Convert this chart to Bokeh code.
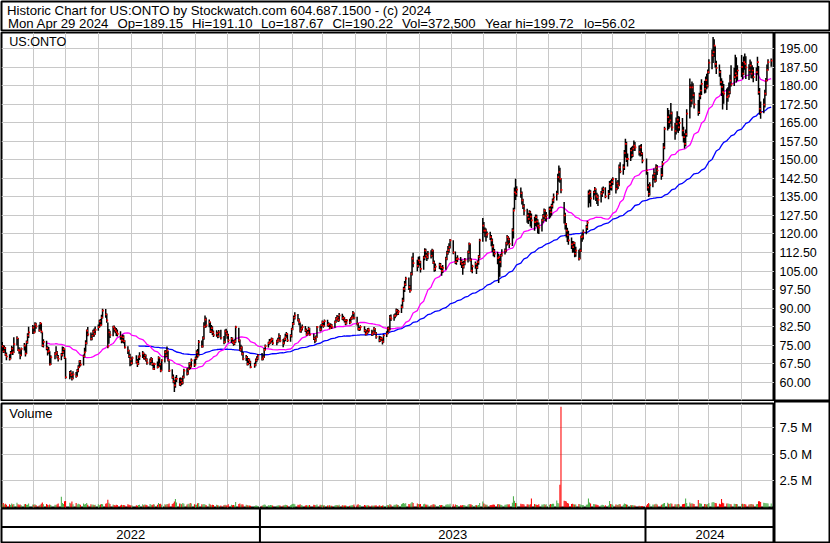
import numpy as np
import pandas as pd
from bokeh.plotting import figure
from bokeh.models import Range1d, FixedTicker, Label, ColumnDataSource, Span
from bokeh.layouts import column, row
from bokeh.embed import file_html
from bokeh.resources import INLINE
from bokeh.core.properties import value

# ---------------- data ----------------
TITLE_LINE1 = "Historic Chart for US:ONTO by Stockwatch.com 604.687.1500 - (c) 2024"
HEADER_FIELDS = ["Mon Apr 29 2024", "Op=189.15", "Hi=191.10", "Lo=187.67", "Cl=190.22",
                 "Vol=372,500", "Year hi=199.72", "lo=56.02"]
SYMBOL = "US:ONTO"
START_DATE = "2022-05-02"
END_DATE = "2024-04-29"
HOLIDAYS = ["2022-05-30", "2022-06-20", "2022-07-04", "2022-09-05", "2022-11-24", "2022-12-26",
            "2023-01-02", "2023-01-16", "2023-02-20", "2023-04-07", "2023-05-29", "2023-06-19",
            "2023-07-04", "2023-09-04", "2023-11-23", "2023-12-25", "2024-01-01", "2024-01-15",
            "2024-02-19", "2024-03-29"]

CLOSE = [
    74.5, 72.5, 73.8, 71.2, 70.4, 69.5, 71.8, 73.6, 72.1, 75.4,
    77.8, 73.0, 72.8, 70.9, 73.5, 74.8, 71.6, 76.2, 78.9, 80.2,
    82.1, 80.2, 83.4, 82.6, 81.0, 83.8, 80.5, 74.9, 76.3, 73.8,
    72.4, 72.8, 67.2, 70.1, 71.4, 72.0, 70.3, 69.5, 71.1, 72.2,
    73.4, 70.0, 62.0, 63.8, 62.9, 61.5, 63.2, 62.4, 64.7, 66.0,
    68.3, 67.1, 70.5, 72.1, 75.8, 80.9, 79.4, 77.6, 78.8, 80.5,
    79.6, 81.2, 82.3, 84.6, 83.1, 86.2, 89.0, 87.4, 85.0, 74.5,
    80.2, 79.1, 82.3, 81.5, 80.9, 80.2, 79.6, 78.5, 76.9, 78.2,
    76.6, 74.1, 72.8, 70.5, 69.2, 67.7, 69.8, 68.3, 67.4, 70.2,
    70.6, 71.7, 69.9, 70.8, 69.1, 67.9, 68.5, 69.4, 67.4, 65.4,
    67.3, 66.1, 69.9, 67.2, 64.7, 68.8, 72.2, 70.9, 72.8, 69.0,
    64.7, 62.0, 60.3, 58.7, 61.4, 61.4, 59.2, 60.7, 59.8, 62.0,
    64.7, 63.6, 65.2, 67.4, 66.4, 68.8, 67.1, 69.7, 72.1, 70.8,
    76.2, 74.5, 77.9, 82.5, 85.3, 83.0, 84.3, 80.6, 81.9, 80.2,
    79.1, 79.8, 78.6, 80.2, 78.0, 76.2, 80.6, 79.7, 78.9, 76.9,
    77.5, 76.2, 75.7, 76.6, 82.3, 76.9, 73.1, 74.0, 71.5, 69.5,
    70.1, 67.4, 69.0, 68.1, 66.1, 67.0, 68.8, 69.7, 70.8, 69.4,
    70.1, 73.1, 74.6, 75.8, 76.3, 76.9, 77.4, 75.8, 76.5, 77.2,
    78.6, 76.8, 75.8, 77.4, 78.2, 79.5, 76.9, 78.8, 81.5, 83.6,
    86.1, 87.0, 85.2, 84.3, 80.9, 81.7, 82.3, 81.0, 79.4, 80.2,
    81.6, 79.3, 77.8, 76.9, 78.2, 82.3, 81.4, 83.1, 84.3, 82.8,
    84.7, 83.2, 83.6, 81.9, 83.0, 82.4, 84.3, 85.6, 86.2, 85.1,
    87.0, 85.8, 86.1, 85.0, 83.9, 85.0, 84.2, 85.7, 86.3, 88.0,
    86.1, 83.7, 81.6, 81.6, 82.4, 80.9, 79.6, 80.2, 81.3, 80.9,
    79.5, 80.2, 81.6, 79.8, 78.4, 76.9, 77.8, 77.6, 76.4, 78.9,
    79.7, 81.8, 80.9, 86.3, 85.7, 86.8, 87.0, 89.0, 87.9, 88.6,
    90.4, 93.0, 97.8, 99.6, 101.9, 98.5, 97.1, 103.8, 110.0, 108.2,
    107.1, 109.3, 108.5, 105.9, 110.4, 113.3, 111.3, 110.6, 112.0, 111.2,
    113.3, 108.4, 105.9, 106.8, 107.5, 106.6, 105.1, 106.3, 110.0, 112.3,
    113.5, 114.7, 117.4, 112.6, 108.6, 109.8, 110.0, 108.8, 107.9, 106.8,
    108.1, 109.3, 112.7, 116.0, 109.4, 105.2, 106.9, 107.9, 106.5, 108.6,
    110.8, 117.4, 123.4, 121.4, 121.4, 119.6, 120.1, 118.7, 117.4, 114.9,
    113.1, 112.0, 110.2, 110.6, 108.7, 111.3, 112.4, 113.3, 116.2, 118.7,
    117.8, 116.0, 121.5, 129.5, 136.9, 136.3, 138.0, 136.5, 133.6, 131.2,
    129.5, 127.4, 126.1, 128.8, 127.0, 125.5, 124.8, 126.8, 125.1, 123.4,
    122.6, 125.5, 127.2, 129.5, 126.6, 127.5, 130.1, 128.8, 131.4, 133.6,
    134.8, 136.3, 143.0, 145.1, 142.3, 137.9, 127.5, 124.0, 121.4, 119.6,
    117.4, 115.8, 114.7, 116.3, 112.0, 113.3, 110.0, 113.3, 118.7, 119.0,
    120.7, 122.8, 124.6, 136.3, 136.9, 134.4, 136.9, 138.2, 135.5, 134.9,
    133.8, 136.3, 137.1, 138.3, 135.2, 136.3, 140.3, 139.0, 141.0, 142.2,
    138.3, 140.5, 139.6, 147.0, 145.3, 147.0, 152.8, 156.5, 150.4, 150.4,
    153.8, 151.9, 154.6, 155.8, 155.1, 153.2, 155.1, 152.5, 149.7, 145.7,
    138.9, 136.3, 139.8, 143.0, 144.4, 141.6, 147.0, 145.7, 143.9, 148.4,
    155.1, 162.6, 167.3, 165.3, 166.0, 168.8, 163.2, 161.7, 164.6, 166.3,
    163.2, 165.0, 161.9, 159.2, 156.5, 160.4, 168.7, 179.4, 174.0, 179.4,
    176.2, 172.5, 169.3, 176.0, 178.1, 180.8, 178.8, 182.3, 180.1, 185.5,
    189.4, 192.3, 193.6, 196.3, 188.9, 187.2, 185.5, 181.5, 179.6, 177.4,
    176.8, 175.4, 176.0, 177.4, 182.1, 180.6, 183.5, 185.0, 184.1, 186.2,
    187.7, 184.9, 189.6, 188.9, 187.5, 186.3, 188.2, 184.9, 186.2, 183.5,
    185.5, 189.6, 177.4, 170.7, 169.3, 172.4, 176.8, 182.1, 186.4, 189.6, 190.22,
]

HIGH = [
    76.3, 75.1, 74.9, 74.2, 72.0, 71.3, 72.6, 74.8, 74.2, 78.2,
    78.6, 77.9, 74.1, 73.2, 74.0, 75.9, 75.2, 76.9, 79.8, 82.4,
    83.2, 82.8, 84.3, 84.1, 83.3, 84.4, 84.0, 80.2, 77.4, 76.8,
    74.6, 74.2, 72.5, 70.9, 72.2, 74.6, 72.6, 71.0, 71.8, 74.5,
    74.2, 73.6, 69.8, 64.5, 64.8, 63.6, 64.4, 64.1, 65.3, 66.9,
    68.9, 69.0, 71.2, 73.9, 77.0, 81.3, 82.3, 80.1, 79.6, 81.2,
    81.7, 82.5, 83.4, 85.3, 85.6, 87.3, 89.7, 89.6, 87.8, 84.2,
    81.5, 80.8, 82.9, 83.0, 82.2, 81.9, 81.3, 80.6, 78.8, 79.3,
    79.0, 77.0, 74.6, 73.1, 71.5, 70.0, 70.4, 70.9, 69.4, 70.8,
    72.1, 72.6, 72.0, 71.5, 71.2, 69.7, 69.6, 70.2, 69.8, 67.9,
    67.9, 68.4, 70.5, 70.1, 67.8, 69.3, 72.9, 73.0, 74.5, 72.7,
    68.8, 65.2, 63.1, 61.0, 62.2, 62.9, 61.8, 61.9, 61.6, 62.7,
    65.4, 65.6, 66.0, 68.1, 68.0, 69.6, 69.3, 70.4, 72.9, 73.4,
    77.1, 76.9, 78.6, 84.3, 87.0, 86.2, 85.4, 84.5, 83.2, 82.7,
    80.9, 81.0, 80.4, 81.1, 81.2, 78.7, 81.3, 81.6, 80.8, 79.6,
    78.3, 78.1, 77.0, 77.3, 82.9, 82.0, 77.3, 75.2, 74.6, 72.2,
    71.0, 70.6, 69.8, 69.6, 68.7, 67.9, 69.6, 70.5, 71.4, 71.8,
    70.9, 73.8, 75.3, 76.4, 77.5, 77.6, 78.1, 77.9, 77.2, 78.0,
    79.8, 79.1, 77.5, 78.0, 79.6, 80.3, 79.8, 79.4, 82.0, 84.4,
    87.0, 88.3, 87.6, 85.9, 84.2, 82.6, 83.4, 82.8, 81.7, 81.1,
    82.4, 82.0, 79.7, 78.4, 78.9, 82.8, 83.0, 83.6, 85.0, 84.7,
    85.4, 85.3, 84.3, 84.0, 83.8, 83.6, 85.0, 86.4, 87.2, 86.8,
    88.0, 87.7, 86.9, 86.4, 85.5, 85.6, 85.7, 86.3, 87.0, 88.8,
    88.2, 86.5, 84.0, 82.4, 83.1, 82.7, 81.5, 81.0, 81.9, 82.0,
    81.2, 80.8, 82.3, 81.9, 80.3, 78.8, 78.6, 78.4, 78.0, 79.5,
    80.6, 82.4, 82.6, 87.2, 87.4, 87.5, 87.9, 89.8, 89.6, 89.3,
    91.5, 94.2, 98.6, 101.0, 102.7, 102.4, 99.4, 104.6, 110.9, 112.4,
    109.6, 110.8, 111.0, 109.2, 111.2, 114.2, 114.0, 112.3, 113.1, 113.4,
    114.0, 113.6, 109.3, 108.1, 108.4, 108.3, 107.0, 107.4, 110.8, 113.2,
    115.1, 116.3, 118.0, 117.5, 112.9, 110.6, 111.4, 110.7, 109.6, 108.8,
    109.2, 110.3, 113.3, 116.6, 116.2, 110.1, 107.5, 108.9, 108.2, 109.3,
    111.5, 118.1, 126.5, 124.9, 122.6, 122.2, 121.0, 120.9, 119.6, 118.2,
    115.8, 113.9, 112.8, 111.9, 111.2, 112.0, 113.8, 114.1, 116.9, 119.6,
    119.2, 118.5, 122.3, 130.6, 138.8, 142.4, 139.3, 138.8, 137.2, 134.3,
    132.1, 130.2, 128.5, 129.6, 129.4, 128.3, 127.0, 127.9, 127.8, 126.0,
    124.7, 126.2, 128.1, 130.3, 130.0, 128.9, 131.0, 131.2, 132.2, 134.4,
    136.4, 137.5, 144.4, 147.7, 146.8, 142.6, 133.0, 128.6, 124.5, 122.5,
    121.3, 118.6, 117.2, 117.1, 116.8, 114.8, 113.6, 114.1, 119.4, 120.5,
    121.8, 123.6, 125.4, 137.6, 138.0, 137.7, 137.5, 139.0, 138.4, 136.7,
    136.0, 137.4, 138.8, 139.2, 138.9, 137.8, 141.5, 141.8, 142.4, 143.0,
    142.7, 141.3, 141.9, 148.1, 149.0, 148.2, 154.0, 158.6, 157.3, 152.6,
    154.9, 155.3, 155.7, 157.9, 157.2, 155.8, 156.0, 156.4, 153.1, 150.6,
    145.1, 140.2, 141.0, 144.1, 146.5, 145.0, 148.2, 147.9, 146.7, 149.6,
    156.8, 163.4, 171.0, 170.2, 168.4, 173.0, 169.6, 164.9, 167.2, 169.7,
    167.8, 167.6, 167.0, 163.4, 160.8, 162.3, 170.5, 183.0, 180.6, 181.7,
    181.0, 177.4, 174.3, 177.2, 180.4, 182.7, 182.0, 183.8, 184.9, 186.6,
    190.8, 194.7, 199.72, 198.8, 196.0, 190.1, 188.6, 186.4, 183.1, 182.0,
    180.7, 178.9, 179.4, 181.3, 184.5, 188.3, 187.3, 192.6, 191.6, 188.3,
    192.5, 189.6, 191.9, 193.1, 192.0, 188.7, 190.6, 189.8, 188.3, 187.5,
    187.4, 191.8, 188.0, 179.1, 173.6, 174.9, 178.4, 183.2, 188.6, 190.7, 191.10,
]

LOW = [
    72.6, 71.8, 71.9, 70.6, 68.9, 68.8, 69.3, 71.2, 71.0, 71.8,
    74.9, 72.6, 71.5, 69.3, 70.5, 72.8, 70.4, 71.4, 75.6, 77.9,
    79.5, 79.6, 80.1, 81.6, 80.4, 80.8, 79.8, 74.3, 74.0, 72.9,
    70.8, 71.5, 66.8, 67.0, 69.3, 70.9, 69.6, 68.4, 68.9, 70.4,
    71.5, 69.4, 61.4, 61.2, 61.9, 60.7, 61.2, 61.8, 62.3, 64.0,
    65.7, 66.4, 66.8, 70.0, 72.3, 75.3, 78.6, 76.9, 77.0, 78.3,
    78.4, 79.2, 80.8, 81.9, 82.6, 83.0, 85.8, 86.1, 84.1, 73.7,
    75.6, 77.9, 78.6, 80.4, 79.8, 78.7, 78.5, 77.2, 75.8, 76.0,
    75.7, 73.6, 71.4, 69.8, 66.5, 66.8, 67.2, 67.6, 66.2, 67.0,
    69.0, 69.8, 69.2, 69.1, 68.4, 67.1, 66.9, 67.8, 66.6, 65.0,
    64.9, 65.5, 65.8, 66.3, 64.0, 64.6, 68.0, 70.1, 70.2, 68.4,
    64.1, 61.4, 59.6, 56.02, 57.8, 60.1, 58.6, 58.4, 58.9, 59.2,
    61.5, 62.7, 63.0, 64.9, 65.2, 66.0, 66.2, 66.8, 69.1, 69.9,
    70.5, 73.9, 74.0, 77.2, 81.9, 82.1, 82.2, 79.9, 80.0, 79.1,
    78.3, 78.4, 77.8, 78.0, 77.3, 75.4, 75.8, 78.9, 77.6, 76.1,
    76.0, 75.6, 74.8, 75.1, 76.0, 76.1, 72.6, 72.4, 70.8, 68.9,
    68.6, 66.8, 66.9, 67.4, 65.6, 65.8, 66.5, 68.1, 68.9, 68.8,
    68.9, 69.8, 72.8, 74.0, 75.2, 75.6, 76.1, 75.1, 75.0, 75.8,
    76.9, 76.2, 74.1, 75.3, 76.6, 77.9, 76.3, 76.4, 78.1, 81.0,
    83.2, 85.4, 84.6, 83.1, 80.1, 80.0, 80.9, 80.3, 78.8, 78.9,
    79.6, 78.8, 77.1, 75.8, 76.4, 78.0, 80.5, 80.8, 82.6, 82.0,
    82.5, 82.6, 82.3, 81.4, 81.5, 81.6, 82.0, 84.1, 85.0, 84.4,
    84.6, 85.2, 84.9, 84.2, 83.1, 83.4, 83.5, 83.9, 85.2, 85.9,
    85.4, 83.0, 80.9, 80.7, 80.9, 80.2, 78.9, 79.0, 79.6, 80.1,
    78.7, 78.9, 79.9, 79.3, 77.6, 76.2, 76.4, 76.8, 75.3, 76.0,
    78.3, 79.4, 80.3, 81.0, 84.8, 84.9, 85.9, 86.6, 87.1, 87.2,
    88.0, 89.9, 92.6, 96.5, 98.9, 97.3, 96.2, 97.0, 103.2, 106.5,
    104.9, 106.3, 107.2, 104.4, 105.5, 109.4, 110.5, 109.1, 109.8, 110.1,
    110.6, 107.9, 104.7, 104.9, 105.8, 105.5, 103.1, 104.2, 105.5, 109.4,
    111.6, 112.4, 114.1, 111.8, 107.9, 107.6, 108.7, 107.3, 106.2, 103.5,
    106.0, 107.3, 108.5, 112.0, 108.9, 104.6, 104.1, 105.9, 103.8, 105.8,
    107.6, 110.2, 116.9, 120.3, 118.7, 117.0, 118.5, 117.6, 115.0, 112.6,
    111.0, 110.6, 107.8, 100.2, 102.7, 106.5, 110.9, 111.7, 112.5, 115.3,
    115.9, 114.3, 115.1, 118.2, 129.9, 133.8, 135.1, 134.7, 131.9, 130.1,
    127.6, 124.6, 124.0, 125.2, 123.0, 122.4, 121.3, 123.1, 122.9, 120.2,
    120.0, 121.0, 124.6, 126.1, 125.3, 125.0, 126.2, 126.7, 127.4, 130.3,
    132.5, 133.6, 136.0, 141.2, 140.7, 136.5, 124.3, 121.8, 118.6, 116.8,
    115.6, 113.9, 112.4, 112.5, 110.6, 110.8, 109.3, 109.8, 112.7, 116.9,
    117.8, 119.9, 121.6, 130.7, 132.5, 131.0, 133.9, 135.6, 133.4, 132.1,
    131.3, 132.8, 135.0, 136.4, 134.5, 134.1, 135.8, 137.7, 137.6, 139.8,
    136.4, 137.7, 138.2, 139.4, 144.6, 144.0, 145.9, 151.0, 149.2, 147.3,
    149.6, 150.7, 151.2, 153.7, 153.6, 151.8, 151.4, 151.6, 148.6, 144.0,
    137.5, 135.0, 135.6, 138.9, 141.8, 140.7, 141.2, 143.9, 142.0, 143.2,
    149.6, 154.3, 161.9, 162.5, 163.1, 164.6, 161.8, 158.2, 160.3, 161.5,
    160.9, 161.8, 159.6, 157.0, 154.6, 155.5, 159.4, 166.8, 171.3, 172.5,
    174.9, 170.8, 167.9, 168.6, 174.6, 176.3, 176.9, 177.2, 178.6, 179.3,
    184.9, 186.7, 189.2, 191.7, 187.4, 184.8, 183.7, 180.1, 175.9, 170.4,
    172.7, 170.2, 173.5, 175.3, 176.6, 179.7, 179.9, 182.9, 181.3, 182.0,
    183.6, 182.7, 184.4, 186.5, 182.8, 182.3, 185.1, 183.1, 183.0, 181.4,
    181.9, 184.6, 176.4, 168.3, 166.7, 168.9, 171.2, 176.0, 181.8, 186.2, 187.67,
]

VOLUME_K = [
    310, 420, 280, 350, 260, 300, 240, 380, 290, 330,
    450, 310, 260, 280, 220, 300, 340, 270, 250, 380,
    290, 260, 310, 240, 200, 270, 350, 480, 300, 330,
    260, 220, 290, 240, 270, 230, 310, 380, 1020, 420,
    340, 590, 620, 450, 380, 560, 300, 420, 280, 350,
    310, 260, 380, 290, 340, 420, 270, 300, 250, 280,
    230, 260, 300, 210, 280, 330, 310, 360, 390, 720,
    450, 330, 280, 240, 200, 260, 230, 190, 250, 220,
    240, 210, 300, 260, 230, 180, 200, 220, 170, 240,
    260, 300, 210, 280, 250, 230, 320, 270, 240, 310,
    290, 260, 430, 330, 350, 270, 300, 250, 330, 310,
    380, 320, 410, 560, 790, 460, 380, 360, 300, 420,
    350, 280, 360, 300, 420, 380, 310, 270, 250, 390,
    420, 310, 290, 330, 280, 240, 350, 290, 220, 260,
    230, 260, 210, 190, 180, 240, 260, 220, 180, 300,
    270, 210, 230, 180, 520, 340, 380, 260, 300, 280,
    250, 210, 180, 200, 170, 140, 200, 190, 150, 160,
    230, 280, 250, 210, 190, 230, 220, 180, 170, 200,
    210, 190, 180, 210, 250, 230, 200, 220, 280, 320,
    360, 310, 270, 240, 300, 230, 200, 190, 220, 180,
    200, 240, 260, 230, 210, 280, 250, 230, 260, 200,
    210, 190, 180, 210, 170, 160, 200, 230, 240, 190,
    250, 210, 180, 200, 190, 170, 160, 190, 210, 240,
    290, 260, 300, 230, 210, 240, 200, 180, 210, 190,
    200, 170, 180, 190, 220, 210, 160, 150, 190, 180,
    200, 230, 210, 340, 270, 260, 240, 300, 250, 230,
    310, 380, 420, 360, 410, 330, 300, 390, 520, 430,
    380, 340, 310, 330, 300, 360, 280, 260, 270, 240,
    260, 300, 280, 250, 230, 210, 240, 220, 260, 280,
    300, 270, 360, 310, 280, 230, 210, 220, 200, 240,
    230, 210, 250, 330, 300, 280, 230, 210, 220, 200,
    240, 420, 560, 380, 310, 270, 250, 240, 230, 260,
    280, 250, 300, 330, 290, 270, 230, 250, 260, 300,
    280, 310, 450, 1050, 640, 420, 390, 360, 300, 330,
    290, 310, 280, 270, 300, 850, 330, 280, 260, 240,
    300, 280, 250, 320, 270, 300, 260, 330, 310, 360,
    350, 650, 420, 380, 2150, 9500, 640, 620, 560, 420,
    380, 340, 360, 310, 290, 280, 330, 300, 260, 240,
    230, 250, 290, 850, 480, 380, 330, 300, 280, 250,
    230, 210, 260, 240, 220, 200, 610, 340, 300, 260,
    280, 250, 230, 320, 300, 260, 380, 330, 290, 250,
    240, 210, 230, 200, 180, 160, 150, 140, 130, 200,
    330, 420, 310, 280, 260, 300, 350, 280, 260, 310,
    380, 420, 450, 360, 330, 390, 350, 300, 290, 310,
    320, 280, 300, 340, 360, 850, 420, 480, 350, 390,
    360, 320, 700, 410, 380, 350, 330, 320, 290, 330,
    420, 460, 510, 480, 430, 390, 350, 310, 800, 440,
    400, 370, 380, 350, 330, 300, 360, 340, 320, 310,
    330, 350, 300, 320, 290, 280, 300, 330, 310, 280,
    310, 330, 600, 580, 520, 450, 420, 390, 410, 380, 372.5,
]

PRICE_TICKS = [60.0, 67.5, 75.0, 82.5, 90.0, 97.5, 105.0, 112.5, 120.0, 127.5,
               135.0, 142.5, 150.0, 157.5, 165.0, 172.5, 180.0, 187.5, 195.0]
VOL_TICKS = [2.5e6, 5.0e6, 7.5e6]
VOL_TICK_LABELS = ["2.5 M", "5.0 M", "7.5 M"]
MA_SHORT = 30
MA_LONG = 90

# ---------------- styling / layout ----------------
FONT = "Liberation Sans"
GRID = "#c8c8c8"
UP_COLOR = "#4cb04c"
DOWN_COLOR = "#ff0000"
W_TOTAL, W_RIGHT = 830, 56
W_MAIN = W_TOTAL - W_RIGHT
H_HEAD, H_PRICE, H_VOL, H_BOT = 31, 370, 107, 35
PRICE_LO, PRICE_HI = 52.59, 201.58
VOL_MAX = 9.81e6
PX_PER_DAY = 1.0563
FIRST_BAR_PX = 1.7      # pixel of first bar, frame starts at pixel 1
HEADER_FIELD_X = [6.5, 116, 190.5, 259.5, 331, 400.5, 483.5, 582.5]

DAY = 86400000.0


def to_ms(ts):
    return (pd.Timestamp(ts) - pd.Timestamp("1970-01-01")) / pd.Timedelta(milliseconds=1)


dates = pd.bdate_range(START_DATE, END_DATE, freq="C", holidays=HOLIDAYS)
n = min(len(dates), len(CLOSE), len(HIGH), len(LOW), len(VOLUME_K))
dates = dates[:n]
xms = np.array([to_ms(d) for d in dates])
close = np.array(CLOSE[:n], dtype=float)
high = np.array(HIGH[:n], dtype=float)
low = np.array(LOW[:n], dtype=float)
vol = np.array(VOLUME_K[:n], dtype=float) * 1000.0

ma_s = pd.Series(close).rolling(MA_SHORT).mean().to_numpy()
ma_l = pd.Series(close).rolling(MA_LONG).mean().to_numpy()
prev = np.concatenate([[close[0]], close[:-1]])
vcol = [UP_COLOR if c >= pc else DOWN_COLOR for c, pc in zip(close, prev)]

x_start = xms[0] - (FIRST_BAR_PX - 1) / PX_PER_DAY * DAY
x_end = x_start + (W_MAIN - 1) / PX_PER_DAY * DAY

month_ticks = [to_ms(d) for d in pd.date_range("2022-06-01", END_DATE, freq="MS")]
year_starts = [to_ms(d) for d in pd.date_range("2023-01-01", END_DATE, freq="YS")]
year_names = [str(y) for y in range(dates[0].year, dates[-1].year + 1)]
bounds = [x_start] + year_starts + [x_end]
year_centers = [(bounds[k] + bounds[k + 1]) / 2 for k in range(len(year_names))]

src = ColumnDataSource(dict(x=xms, xc=xms + 0.5 * DAY, high=high, low=low, close=close,
                            ma_s=ma_s, ma_l=ma_l, vol=vol, vcol=vcol))

common = dict(toolbar_location=None, output_backend="svg", x_axis_location=None,
              y_axis_location=None, background_fill_color="white", border_fill_color="white",
              outline_line_color="black", outline_line_width=2)

# header
hdr = figure(width=W_TOTAL, height=H_HEAD, x_range=Range1d(0, W_TOTAL - 2), y_range=Range1d(H_HEAD - 1, 0),
             min_border_left=1, min_border_right=1, min_border_top=1, min_border_bottom=0, **common)
hdr.grid.grid_line_color = None
hdr.add_layout(Label(x=5.5, y=8.6, text=TITLE_LINE1, text_font=FONT, text_font_size="13.2px",
                     text_baseline="middle", text_color="black"))
for fx, ft in zip(HEADER_FIELD_X, HEADER_FIELDS):
    hdr.add_layout(Label(x=fx, y=21.9, text=ft, text_font=FONT, text_font_size="13.2px",
                         text_baseline="middle", text_color="black"))

# price panel
x_rng = Range1d(x_start, x_end)
p_rng = Range1d(PRICE_LO, PRICE_HI)
p = figure(width=W_MAIN, height=H_PRICE, x_range=x_rng, y_range=p_rng,
           min_border_left=1, min_border_right=0, min_border_top=1, min_border_bottom=1, **common)
p.xgrid.ticker = FixedTicker(ticks=month_ticks)
p.ygrid.ticker = FixedTicker(ticks=PRICE_TICKS)
p.grid.grid_line_color = GRID
p.grid.grid_line_width = 1
p.line("x", "ma_l", source=src, line_color="#0000ff", line_width=1.3)
p.line("x", "ma_s", source=src, line_color="#ff00ff", line_width=1.3)
p.segment(x0="x", y0="low", x1="x", y1="high", source=src, line_color="black", line_width=1.5)
p.scatter("xc", "close", source=src, marker="square", size=1.7, fill_color="#ff0000", line_color=None)
p.add_layout(Label(x=xms[0] + 7 / PX_PER_DAY * DAY, y=197.6, text=SYMBOL, text_font=FONT,
                   text_font_size="12.6px", text_baseline="middle", text_color="black"))

p_lab = figure(width=W_RIGHT, height=H_PRICE, x_range=Range1d(0, W_RIGHT - 1), y_range=p_rng,
               min_border_left=0, min_border_right=1, min_border_top=1, min_border_bottom=1, **common)
p_lab.grid.grid_line_color = None
p_lab.text(x=[5.0] * len(PRICE_TICKS), y=PRICE_TICKS, text=[f"{t:.2f}" for t in PRICE_TICKS],
           text_font=value(FONT), text_font_size=value("12.5px"), text_baseline="middle",
           text_align="left", text_color="black")

# volume panel
v_rng = Range1d(0, VOL_MAX)
v = figure(width=W_MAIN, height=H_VOL, x_range=x_rng, y_range=v_rng,
           min_border_left=1, min_border_right=0, min_border_top=2, min_border_bottom=1, **common)
v.xgrid.ticker = FixedTicker(ticks=month_ticks)
v.ygrid.ticker = FixedTicker(ticks=VOL_TICKS)
v.grid.grid_line_color = GRID
v.grid.grid_line_width = 1
v.vbar(x="x", top="vol", width=DAY, source=src, fill_color="vcol", line_color=None)
v.add_layout(Label(x=xms[0] + 7 / PX_PER_DAY * DAY, y=8.87e6, text="Volume", text_font=FONT,
                   text_font_size="13px", text_baseline="middle", text_color="black"))

# bottom (year rows)
b = figure(width=W_MAIN, height=H_BOT, x_range=x_rng, y_range=Range1d(0, 2.2),
           min_border_left=1, min_border_right=0, min_border_top=0, min_border_bottom=1, **common)
b.grid.grid_line_color = None
b.add_layout(Span(location=1, dimension="width", line_color="black", line_width=2))
b.segment(x0=year_starts, y0=[0] * len(year_starts), x1=year_starts, y1=[2.2] * len(year_starts),
          line_color="black", line_width=2)
b.text(x=year_centers, y=[0.5] * len(year_names), text=year_names, text_font=value(FONT),
       text_font_size=value("13px"), text_baseline="middle", text_align="center", text_color="black")

# volume label column (same volume scale as the volume panel)
vol_top_border, vol_frame_h = 2, H_VOL - 3
lab_h = H_VOL + H_BOT
vpp = VOL_MAX / vol_frame_h
lab_top = VOL_MAX + vol_top_border * vpp
lab_bot = lab_top - (lab_h - 1) * vpp
v_lab = figure(width=W_RIGHT, height=lab_h, x_range=Range1d(0, W_RIGHT - 1), y_range=Range1d(lab_bot, lab_top),
               min_border_left=0, min_border_right=1, min_border_top=0, min_border_bottom=1, **common)
v_lab.grid.grid_line_color = None
v_lab.text(x=[5.0] * len(VOL_TICKS), y=VOL_TICKS, text=VOL_TICK_LABELS, text_font=value(FONT),
           text_font_size=value("13px"), text_baseline="middle", text_align="left", text_color="black")

layout = column(hdr, row(p, p_lab), row(column(v, b), v_lab))

open("out.html", "w").write(file_html(layout, INLINE))
